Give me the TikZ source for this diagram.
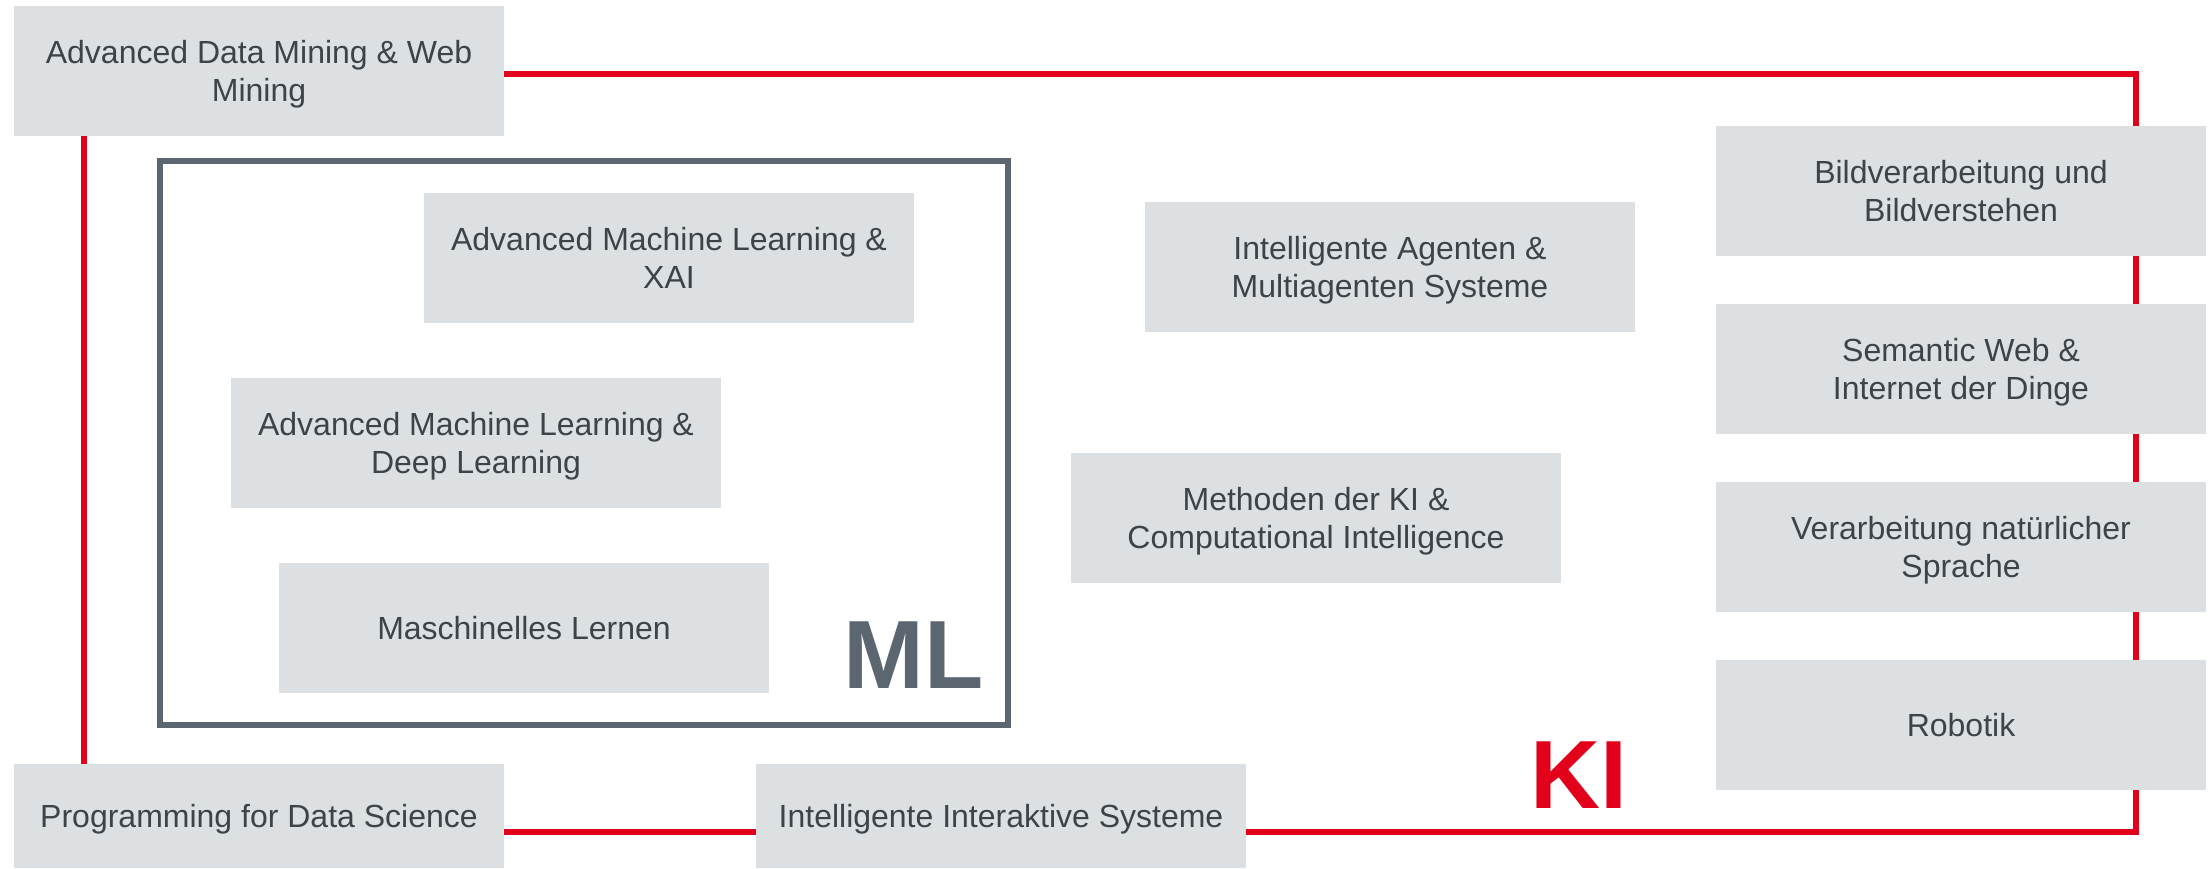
\documentclass[tikz,border=0pt]{standalone}
\usepackage{fontspec}
\setmainfont{Liberation Sans}
\usetikzlibrary{calc}
\definecolor{boxgray}{HTML}{DDE0E3}
\definecolor{textgray}{HTML}{3D4447}
\definecolor{framegray}{HTML}{5B6670}
\definecolor{kired}{HTML}{E2001A}
\newcommand\lnstrut{\rule[-0.212em]{0pt}{1.117em}}
\pgfdeclarelayer{background}
\pgfsetlayers{background,main}
\tikzset{
  course/.style={fill=boxgray, text=textgray, minimum width=490pt, minimum height=130pt,
    inner sep=0pt, align=center, font=\fontsize{32}{38}\selectfont},
  shortcourse/.style={course, minimum height=104pt},
  mlframestyle/.style={draw=framegray, line width=5.5pt, minimum width=848pt, minimum height=564pt, inner sep=0pt},
  biglabel/.style={inner sep=0pt, anchor=base west, font=\fontsize{97}{97}\selectfont\bfseries},
  redline/.style={draw=kired, line width=6pt}
}
\begin{document}
\begin{tikzpicture}[x=1pt,y=-1pt]
\useasboundingbox (0,0) rectangle (2211,869);
% ML frame
\node[mlframestyle] (mlframe) at (584,443) {};
% courses
\node[course] (adm) at (259,71) {\lnstrut Advanced Data Mining \& Web\\\lnstrut Mining};
\node[course] (amlxai) at (669,258) {\lnstrut Advanced Machine Learning \&\\\lnstrut XAI};
\node[course] (amldl) at (476,443) {\lnstrut Advanced Machine Learning \&\\\lnstrut Deep Learning};
\node[course] (mlern) at (524,628) {\lnstrut Maschinelles Lernen};
\node[course] (agent) at (1390,267) {\lnstrut Intelligente Agenten \&\\\lnstrut Multiagenten Systeme};
\node[course] (meth) at (1316,518) {\lnstrut Methoden der KI \&\\\lnstrut Computational Intelligence};
\node[course] (bild) at (1961,191) {\lnstrut Bildverarbeitung und\\\lnstrut Bildverstehen};
\node[course] (sem) at (1961,369) {\lnstrut Semantic Web \&\\\lnstrut Internet der Dinge};
\node[course] (nlp) at (1961,547) {\lnstrut Verarbeitung natürlicher\\\lnstrut Sprache};
\node[course] (rob) at (1961,725) {\lnstrut Robotik};
\node[shortcourse] (pds) at (259,816) {\lnstrut Programming for Data Science};
\node[shortcourse] (iis) at (1001,816) {\lnstrut Intelligente Interaktive Systeme};
% labels
\node[biglabel, text=framegray] (ml) at (843,688) {ML};
\node[biglabel, text=kired] (ki) at (1530,808) {KI};
% red KI frame
\coordinate (rx) at (2136,0);
\coordinate (lx) at (83.5,0);
\coordinate (topy) at (0,74);
\coordinate (boty) at (0,832);
\begin{pgfonlayer}{background}
\draw[redline] (adm.east |- topy) -- (rx |- topy) -- (rx |- boty) -- (iis.east |- boty);
\draw[redline] (pds.east |- boty) -- (iis.west |- boty);
\draw[redline] (lx |- adm.south) -- (lx |- pds.north);
\end{pgfonlayer}
\end{tikzpicture}
\end{document}
